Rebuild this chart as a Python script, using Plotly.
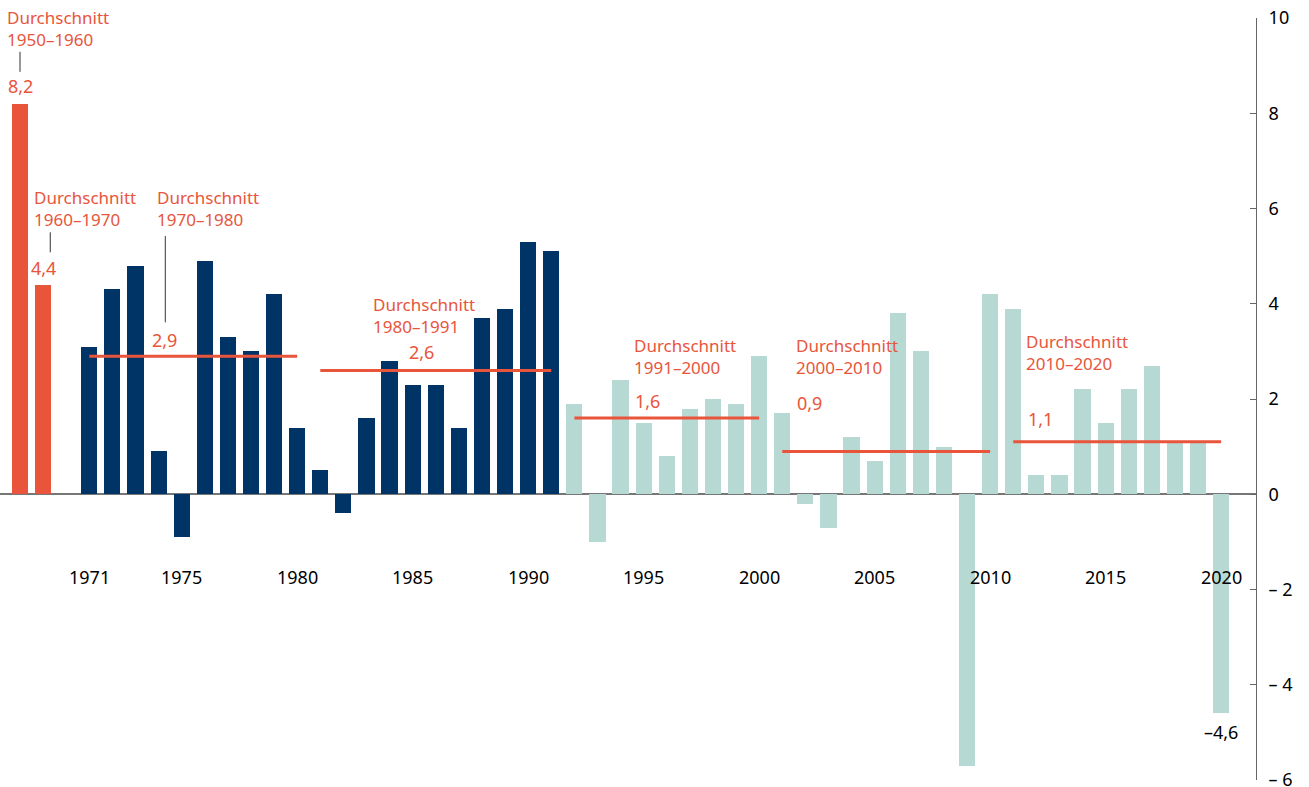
import plotly.graph_objects as go

# --- data ---
years = list(range(1971, 2021))
growth = [3.1, 4.3, 4.8, 0.9, -0.9, 4.9, 3.3, 3.0, 4.2, 1.4,
          0.5, -0.4, 1.6, 2.8, 2.3, 2.3, 1.4, 3.7, 3.9, 5.3,
          5.1, 1.9, -1.0, 2.4, 1.5, 0.8, 1.8, 2.0, 1.9, 2.9,
          1.7, -0.2, -0.7, 1.2, 0.7, 3.8, 3.0, 1.0, -5.7, 4.2,
          3.9, 0.4, 0.4, 2.2, 1.5, 2.2, 2.7, 1.1, 1.1, -4.6]
west_until = 1991

early_avg_pos = [1968, 1969]
early_avg_vals = [8.2, 4.4]
early_avg_labels = ["1950–1960", "1960–1970"]

avg_labels = ["1970–1980", "1980–1991", "1991–2000", "2000–2010", "2010–2020"]
avg_start = [1971, 1981, 1992, 2001, 2011]
avg_end = [1980, 1991, 2000, 2010, 2020]
avg_vals = [2.9, 2.6, 1.6, 0.9, 1.1]

year_ticks = [1971, 1975, 1980, 1985, 1990, 1995, 2000, 2005, 2010, 2015, 2020]
y_ticks = [-6, -4, -2, 0, 2, 4, 6, 8, 10]
y_ticktext = ["– 6", "– 4", "– 2", "0", "2", "4", "6", "8", "10"]

ORANGE = "#E8553B"
NAVY = "#003366"
TEAL = "#B6D9D4"
FONT = "Noto Sans"

def de(v):
    return f"{v:.1f}".replace(".", ",").replace("-", "–")

fig = go.Figure()

fig.add_trace(go.Bar(x=early_avg_pos, y=early_avg_vals, width=0.7,
                     marker=dict(color=ORANGE, line_width=0), showlegend=False))
bar_colors = [NAVY if y <= west_until else TEAL for y in years]
fig.add_trace(go.Bar(x=years, y=growth, width=0.7,
                     marker=dict(color=bar_colors, line_width=0), showlegend=False))

for s, e, v in zip(avg_start, avg_end, avg_vals):
    fig.add_trace(go.Scatter(x=[s, e], y=[v, v], mode="lines",
                             line=dict(color=ORANGE, width=3), showlegend=False,
                             hoverinfo="skip"))

ann = []
def txt(x, y, t, color=ORANGE, xanchor="left", size=18):
    ann.append(dict(x=x, y=y, xref="x", yref="y", text=t, showarrow=False,
                    xanchor=xanchor, yanchor="middle", align="left",
                    borderpad=0, borderwidth=0,
                    font=dict(family=FONT, size=size, color=color)))

def title(x, ymid, period):
    txt(x, ymid, "Durchschnitt<br>" + period, size=17)

# early averages (1950s / 1960s)
title_pos = [(1967.45, 9.77), (1968.62, 5.99)]
value_pos = [8.57, 4.75]
conn = [(1968.0, 8.87, 9.29), (1969.31, 5.08, 5.50)]
for i in range(2):
    title(title_pos[i][0], title_pos[i][1], early_avg_labels[i])
    txt(early_avg_pos[i], value_pos[i], de(early_avg_vals[i]), xanchor="center")
    fig.add_shape(type="line", x0=conn[i][0], x1=conn[i][0], y0=conn[i][1], y1=conn[i][2],
                  xref="x", yref="y", line=dict(color="#333", width=1))

# period averages
title_xy = [(1973.95, 5.99), (1983.30, 3.75), (1994.60, 2.90), (2001.61, 2.89), (2011.56, 2.97)]
val_xy = [(1974.25, 3.24, "center"), (1985.37, 2.98, "center"), (1994.64, 1.95, "left"),
          (2001.65, 1.91, "left"), (2011.62, 1.58, "left")]
for i in range(5):
    title(title_xy[i][0], title_xy[i][1], avg_labels[i])
    txt(val_xy[i][0], val_xy[i][1], de(avg_vals[i]), xanchor=val_xy[i][2])
fig.add_shape(type="line", x0=1974.29, x1=1974.29, y0=3.61, y1=5.42,
              xref="x", yref="y", line=dict(color="#333", width=1))

# 2020 value
txt(years[-1], -5.0, de(growth[-1]), color="black", xanchor="center")

# year labels below the zero line
for yr in year_ticks:
    txt(yr, -1.74, str(yr), color="black", xanchor="center")

fig.update_layout(
    width=1309, height=787,
    margin=dict(l=0, r=53, t=18, b=7, autoexpand=False),
    plot_bgcolor="white", paper_bgcolor="white",
    bargap=0, showlegend=False,
    annotations=ann,
    font=dict(family=FONT, size=18, color="black"),
    xaxis=dict(range=[1967.134, 2021.51], showgrid=False, zeroline=False,
               showticklabels=False, showline=False, ticks=""),
    yaxis=dict(range=[-6, 10], side="right", showgrid=False,
               zeroline=True, zerolinecolor="#777", zerolinewidth=1.5,
               showline=True, linecolor="#666", linewidth=1,
               ticks="inside", ticklen=6, tickcolor="#666",
               tickvals=y_ticks, ticktext=y_ticktext, ticklabelstandoff=8,
               ticklabeloverflow="allow",
               tickfont=dict(family=FONT, size=18, color="black")),
)

fig.write_html("out.html", config={"displayModeBar": False},
               post_script="document.body.style.margin='0';")
